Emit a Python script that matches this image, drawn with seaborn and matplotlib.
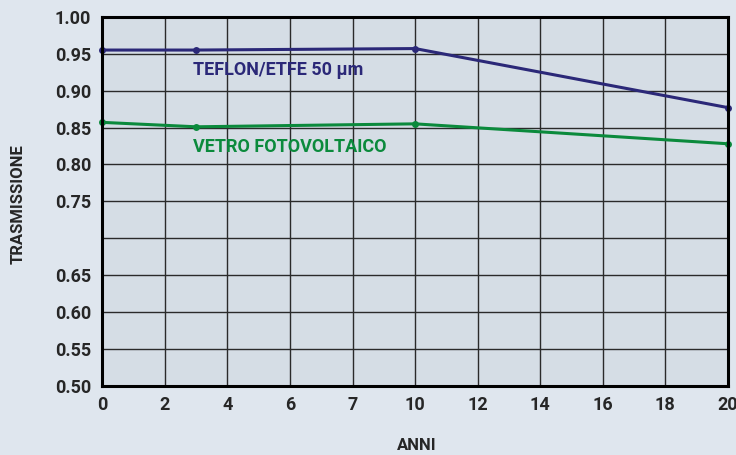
import numpy as np
import pandas as pd
import seaborn as sns
from matplotlib import pyplot as plt

# etichette dell'asse x (posizioni equidistanti come nell'originale)
x_tick_labels = ['0', '2', '4', '6', '7', '10', '12', '14', '16', '18', '20']
x_tick_years = [0, 2, 4, 6, 8, 10, 12, 14, 16, 18, 20]
y_ticks = [0.50, 0.55, 0.60, 0.65, 0.70, 0.75, 0.80, 0.85, 0.90, 0.95, 1.00]
y_tick_labels = ['0.50', '0.55', '0.60', '0.65', '', '0.75', '0.80', '0.85', '0.90', '0.95', '1.00']

# dati
anni = [0, 3, 10, 20]
teflon = [0.955, 0.955, 0.957, 0.877]
vetro = [0.857, 0.851, 0.855, 0.828]

col_teflon = '#2b2878'
col_vetro = '#0b8a3c'
bg = '#dfe6ee'

pos = np.interp(anni, x_tick_years, range(len(x_tick_years)))
df = pd.DataFrame({
    'pos': np.concatenate([pos, pos]),
    'val': teflon + vetro,
    'serie': ['TEFLON/ETFE 50 µm'] * 4 + ['VETRO FOTOVOLTAICO'] * 4,
})

sns.set_style('white')
plt.rcParams['font.family'] = ['Roboto', 'DejaVu Sans']

fig = plt.figure(figsize=(7.36, 4.55), dpi=100, facecolor=bg)
ax = fig.add_axes([0.139, 0.152, 0.850, 0.811])
ax.set_facecolor('#d5dde5')

sns.lineplot(data=df, x='pos', y='val', hue='serie',
             palette=[col_teflon, col_vetro], marker='o', markersize=5,
             markeredgewidth=0, linewidth=2.2, legend=False, ax=ax, zorder=3)

ax.set_xlim(0, 10)
ax.set_ylim(0.5, 1.0)
ax.set_xticks(range(len(x_tick_labels)))
ax.set_xticklabels(x_tick_labels)
ax.set_yticks(y_ticks)
ax.set_yticklabels(y_tick_labels)
ax.grid(True, color='#2a2a2a', linewidth=1.0)
ax.tick_params(axis='y', length=0, labelsize=13, pad=8)
ax.tick_params(axis='x', length=0, labelsize=13, pad=7)
for lab in ax.get_xticklabels() + ax.get_yticklabels():
    lab.set_fontweight('bold')
for s in ax.spines.values():
    s.set_visible(True)
    s.set_color('black')
    s.set_linewidth(2.2)
    s.set_zorder(5)
for l in ax.lines:
    l.set_clip_on(False)

ax.text(1.45, 0.928, 'TEFLON/ETFE 50 µm', color=col_teflon, fontsize=13,
        fontweight='bold', va='center')
ax.text(1.45, 0.824, 'VETRO FOTOVOLTAICO', color=col_vetro, fontsize=13,
        fontweight='bold', va='center')

ax.set_xlabel('')
ax.set_ylabel('')
fig.text(417 / 736, 1 - 445 / 455, 'ANNI', fontsize=12, fontweight='bold',
         ha='center', va='center')
fig.text(18 / 736, 1 - 204 / 455, 'TRASMISSIONE', fontsize=12, fontweight='bold',
         ha='center', va='center', rotation=90)

plt.savefig('out.png', dpi=100, facecolor=bg)
